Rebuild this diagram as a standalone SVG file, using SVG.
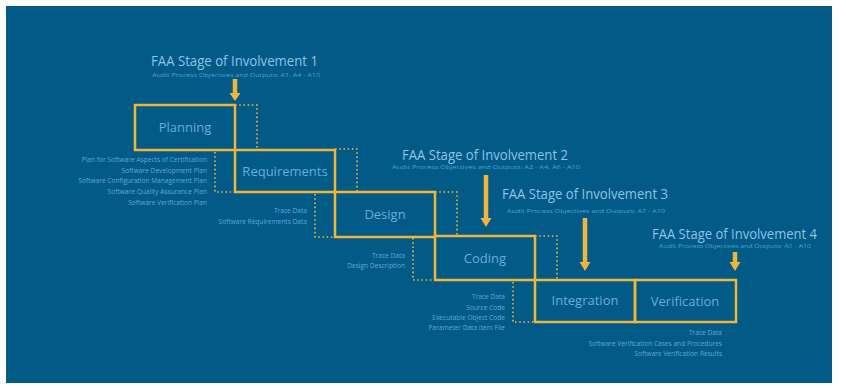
<svg xmlns="http://www.w3.org/2000/svg" width="846" height="388" viewBox="0 0 846 388">
<style>
.bg{fill:#025a87}
.box{fill:none;stroke:#f2b53c;stroke-width:2.5}
.dot{fill:none;stroke:#f2b53c;stroke-width:1.6;stroke-dasharray:1.6 2.6}
.arr{stroke:#f2b53c;stroke-width:4.5}
.head{fill:#f2b53c}
.lbl{font-family:"Open Sans","Liberation Sans",sans-serif;font-size:13px;fill:#66aedc;text-anchor:middle}
.ttl{font-family:"Open Sans","Liberation Sans",sans-serif;font-size:14.5px;fill:#8cc3e6}
.sub{font-family:"Open Sans","Liberation Sans",sans-serif;font-size:5.5px;fill:#4aa2d6}
.out{font-family:"Open Sans","Liberation Sans",sans-serif;font-size:6.6px;fill:#5aaadb;text-anchor:end}
</style>
<rect x="0" y="0" width="846" height="388" fill="#ffffff"/>
<rect class="bg" x="6" y="6" width="826" height="377"/>

<g id="connectors">
<path class="dot" d="M235,105 H257 V150"/>
<path class="dot" d="M215,152 V192 H235"/>
<path class="dot" d="M335,149 H357 V192"/>
<path class="dot" d="M315,194 V237 H335"/>
<path class="dot" d="M435,192 H457 V236"/>
<path class="dot" d="M413,238 V280 H435"/>
<path class="dot" d="M535,236 H557 V280"/>
<path class="dot" d="M513,282 V322 H535"/>
<line class="arr" x1="235" y1="79" x2="235" y2="94"/>
<polygon class="head" points="229.5,93 240.5,93 235,101"/>
<line class="arr" x1="486" y1="175" x2="486" y2="219"/>
<polygon class="head" points="480.5,218 491.5,218 486,227"/>
<line class="arr" x1="585" y1="218" x2="585" y2="263"/>
<polygon class="head" points="579.5,262 590.5,262 585,271"/>
<line class="arr" x1="735" y1="252" x2="735" y2="263"/>
<polygon class="head" points="729.5,262 740.5,262 735,271"/>
</g>

<g id="soi1">
<text class="ttl" x="151" y="66" textLength="167" lengthAdjust="spacingAndGlyphs">FAA Stage of Involvement 1</text>
<text class="sub" x="152" y="77" textLength="168" lengthAdjust="spacingAndGlyphs">Audit Process Objectives and Outputs: A1, A4 - A10</text>
</g>
<g id="soi2">
<text class="ttl" x="402" y="160" textLength="166" lengthAdjust="spacingAndGlyphs">FAA Stage of Involvement 2</text>
<text class="sub" x="392" y="169" textLength="188" lengthAdjust="spacingAndGlyphs">Audit Process Objectives and Outputs: A2 - A4, A6 - A10</text>
</g>
<g id="soi3">
<text class="ttl" x="502" y="199" textLength="166" lengthAdjust="spacingAndGlyphs">FAA Stage of Involvement 3</text>
<text class="sub" x="507" y="213" textLength="158" lengthAdjust="spacingAndGlyphs">Audit Process Objectives and Outputs: A7 - A10</text>
</g>
<g id="soi4">
<text class="ttl" x="652" y="239" textLength="165" lengthAdjust="spacingAndGlyphs">FAA Stage of Involvement 4</text>
<text class="sub" x="659" y="248" textLength="152" lengthAdjust="spacingAndGlyphs">Audit Process Objectives and Outputs: A1 - A10</text>
</g>

<g id="planning">
<rect class="box" x="135" y="105" width="100" height="45"/>
<text class="lbl" x="185" y="132">Planning</text>
<text class="out" x="207" y="162">Plan for Software Aspects of Certification</text>
<text class="out" x="207" y="172.5">Software Development Plan</text>
<text class="out" x="207" y="183">Software Configuration Management Plan</text>
<text class="out" x="207" y="194">Software Quality Assurance Plan</text>
<text class="out" x="207" y="205">Software Verification Plan</text>
</g>
<g id="requirements">
<rect class="box" x="235" y="150" width="100" height="42"/>
<text class="lbl" x="285" y="176">Requirements</text>
<text class="out" x="307" y="213">Trace Data</text>
<text class="out" x="307" y="223.5">Software Requirements Data</text>
</g>
<g id="design">
<rect class="box" x="335" y="192" width="100" height="45"/>
<text class="lbl" x="385" y="219">Design</text>
<text class="out" x="405" y="258">Trace Data</text>
<text class="out" x="405" y="268">Design Description</text>
</g>
<g id="coding">
<rect class="box" x="435" y="236" width="100" height="44"/>
<text class="lbl" x="485" y="263">Coding</text>
<text class="out" x="505" y="299">Trace Data</text>
<text class="out" x="505" y="309.5">Source Code</text>
<text class="out" x="505" y="320">Executable Object Code</text>
<text class="out" x="505" y="330">Parameter Data Item File</text>
</g>
<g id="integration">
<rect class="box" x="535" y="280" width="100" height="42"/>
<text class="lbl" x="585" y="305">Integration</text>
</g>
<g id="verification">
<rect class="box" x="635" y="280" width="101" height="42"/>
<text class="lbl" x="685" y="306">Verification</text>
<text class="out" x="722" y="335">Trace Data</text>
<text class="out" x="722" y="345.5">Software Verification Cases and Procedures</text>
<text class="out" x="722" y="356">Software Verification Results</text>
</g>
</svg>
